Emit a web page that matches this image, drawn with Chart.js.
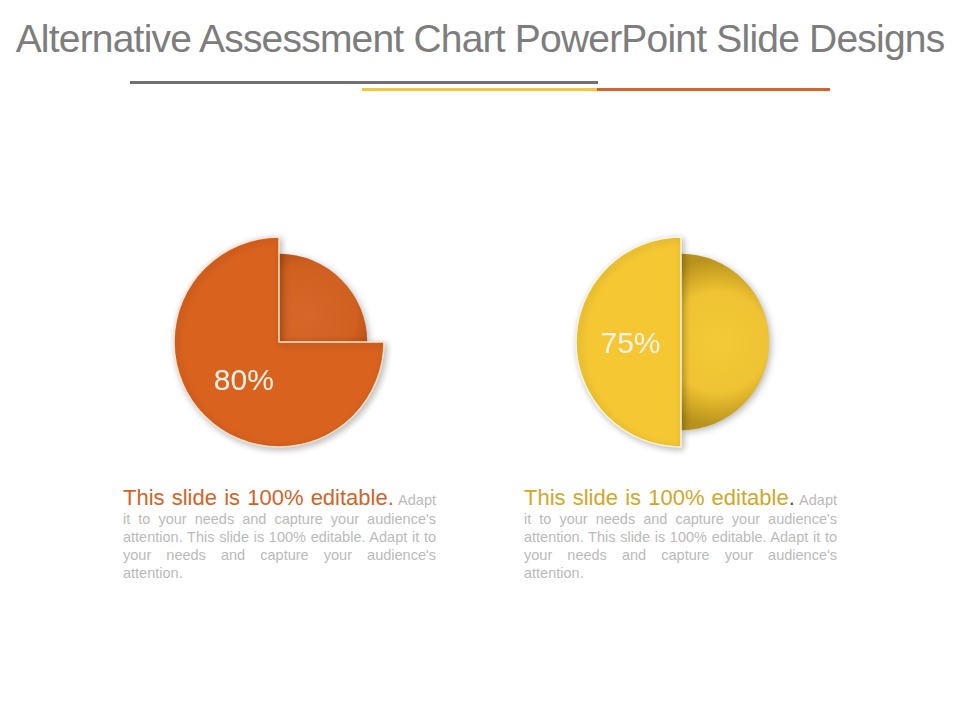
<!DOCTYPE html>
<html>
<head>
<meta charset="utf-8">
<title>Alternative Assessment Chart</title>
<script src="https://cdn.jsdelivr.net/npm/chart.js@4.4.1/dist/chart.umd.min.js"></script>
<style>
  html, body { margin: 0; padding: 0; background: #fff; }
  body { width: 960px; height: 720px; position: relative; overflow: hidden; font-family: "Liberation Sans", Arial, sans-serif; }
  h1 { position: absolute; left: 0; top: 19px; width: 960px; margin: 0; text-align: center; font-weight: normal; font-size: 39px; line-height: 39px; letter-spacing: -0.8px; color: #7d7d7d; white-space: nowrap; }
  .rule { position: absolute; height: 3px; }
  .pie { position: absolute; width: 240px; height: 240px; }
  .note { position: absolute; top: 486px; width: 313px; text-align: justify; font-size: 14.5px; line-height: 18px; color: #bababa; }
  .note .lead { font-size: 22px; line-height: 24px; }
</style>
</head>
<body>
<h1>Alternative Assessment Chart PowerPoint Slide Designs</h1>
<div class="rule" style="left:130px; top:81px; width:468px; background:#6f7174;"></div>
<div class="rule" style="left:362px; top:88px; width:235px; background:#f1c53d;"></div>
<div class="rule" style="left:597px; top:88px; width:233px; background:#d4652a;"></div>

<div class="pie" style="left:159px; top:222px;"><canvas id="pieLeft"></canvas></div>
<div class="pie" style="left:561px; top:222px;"><canvas id="pieRight"></canvas></div>

<div class="note" style="left:123px;"><span class="lead" style="color:#cf6429;">This slide is 100% editable.</span> Adapt it to your needs and capture your audience's attention. This slide is 100% editable. Adapt it to your needs and capture your audience's attention.</div>
<div class="note" style="left:524px;"><span class="lead" style="color:#cfa72a;">This slide is 100% editable<span style="color:#555;">.</span></span> Adapt it to your needs and capture your audience's attention. This slide is 100% editable. Adapt it to your needs and capture your audience's attention.</div>

<script>
  // slice order: [remaining, score], drawn clockwise from 12 o'clock
  const sliceNames = ['Remaining', 'Score'];
  const leftValues = [25, 75];
  const rightValues = [50, 50];
  const valueLabels = ['80%', '75%'];

  const RADIUS = 105;
  const INNER_RATIO = 0.84;

  // the "remaining" slice sits a bit lower than the score slice
  const shrinkSlice = {
    id: 'shrinkSlice',
    afterDatasetsUpdate(chart) {
      const arc = chart.getDatasetMeta(0).data[0];
      if (arc) arc.outerRadius = RADIUS * INNER_RATIO;
    }
  };

  const softShadow = {
    id: 'softShadow',
    beforeDatasetsDraw(chart) {
      const c = chart.ctx;
      c.save();
      c.shadowColor = 'rgba(0,0,0,0.28)';
      c.shadowBlur = 7;
      c.shadowOffsetX = 2;
      c.shadowOffsetY = 2;
    },
    afterDatasetsDraw(chart) {
      chart.ctx.restore();
    }
  };

  const valueText = {
    id: 'valueText',
    afterDatasetsDraw(chart, args, opts) {
      const arc = chart.getDatasetMeta(0).data[1];
      if (!arc) return;
      const p = arc.getCenterPoint();
      const c = chart.ctx;
      c.save();
      c.font = '30px "Liberation Sans", Arial, sans-serif';
      c.fillStyle = '#fdf3ea';
      c.textAlign = 'center';
      c.textBaseline = 'middle';
      c.fillText(opts.text, p.x + 2, p.y + 3);
      c.restore();
    }
  };

  function sliceFill(mainColor, light, mid, dark) {
    return function (ctx) {
      if (ctx.dataIndex !== 0) return mainColor;
      const chart = ctx.chart;
      const area = chart.chartArea;
      if (!area) return mid;
      const data = ctx.dataset.data;
      const total = data.reduce((a, b) => a + b, 0);
      const angle = -Math.PI / 2 + Math.PI * data[0] / total;
      const r = RADIUS * INNER_RATIO;
      const cx = (area.left + area.right) / 2;
      const cy = (area.top + area.bottom) / 2;
      const gx = cx + Math.cos(angle) * r * 0.42;
      const gy = cy + Math.sin(angle) * r * 0.42;
      const g = chart.ctx.createRadialGradient(gx, gy, 0, gx, gy, r * 0.95);
      g.addColorStop(0, light);
      g.addColorStop(0.6, mid);
      g.addColorStop(1, dark);
      return g;
    };
  }

  function makePie(id, values, label, colors) {
    new Chart(document.getElementById(id), {
      type: 'pie',
      data: {
        labels: sliceNames,
        datasets: [{
          data: values,
          backgroundColor: sliceFill(colors.main, colors.light, colors.mid, colors.dark),
          borderColor: ['rgba(0,0,0,0)', colors.edge],
          borderWidth: [0, 1.5],
          radius: RADIUS
        }]
      },
      options: {
        responsive: true,
        maintainAspectRatio: false,
        animation: false,
        events: [],
        radius: RADIUS,
        layout: { padding: 0 },
        plugins: {
          legend: { display: false },
          tooltip: { enabled: false },
          valueText: { text: label }
        }
      },
      plugins: [shrinkSlice, softShadow, valueText]
    });
  }

  makePie('pieLeft', leftValues, valueLabels[0], {
    main: '#d9621f', light: '#d6672a', mid: '#d0601f', dark: '#a04612', edge: '#fbe3cc'
  });
  makePie('pieRight', rightValues, valueLabels[1], {
    main: '#f4c733', light: '#f3ca38', mid: '#efc333', dark: '#b8921b', edge: '#fdf5dc'
  });
</script>
</body>
</html>
